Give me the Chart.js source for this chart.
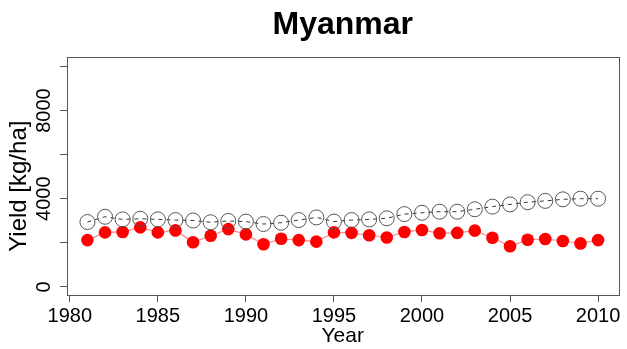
<!DOCTYPE html>
<html>
<head>
<meta charset="utf-8">
<script src="https://cdn.jsdelivr.net/npm/chart.js@4.4.1/dist/chart.umd.min.js"></script>
<style>
  html, body { margin: 0; padding: 0; background: #fff; }
  canvas { display: block; }
</style>
</head>
<body>
<canvas id="yieldChart" width="627" height="349"></canvas>
<script>
// ========== DATA ==========
const years = [1981, 1982, 1983, 1984, 1985, 1986, 1987, 1988, 1989, 1990,
               1991, 1992, 1993, 1994, 1995, 1996, 1997, 1998, 1999, 2000,
               2001, 2002, 2003, 2004, 2005, 2006, 2007, 2008, 2009, 2010];
// open circles (dashed line)
const potentialYield = [2940, 3180, 3060, 3090, 3060, 3030, 3010, 2930, 2990, 2960,
                        2850, 2910, 3030, 3150, 2960, 3030, 3060, 3110, 3300, 3360,
                        3410, 3410, 3520, 3640, 3740, 3840, 3900, 3970, 4000, 4000];
// red filled points
const actualYield = [2120, 2470, 2490, 2700, 2470, 2560, 2020, 2320, 2620, 2380,
                     1930, 2180, 2120, 2050, 2470, 2450, 2340, 2240, 2490, 2580,
                     2430, 2450, 2550, 2230, 1840, 2140, 2170, 2080, 1970, 2120];
const xTicks = [1980, 1985, 1990, 1995, 2000, 2005, 2010];
const yTicks = [0, 2000, 4000, 6000, 8000, 10000];
const yLabelled = [0, 4000, 8000];

const FONT = 'Liberation Sans, Arial, Helvetica, sans-serif';
const AXIS_COLOR = '#555';

// box around plot area like R's box()
const boxPlugin = {
    id: 'plotBox',
    afterDraw(chart) {
        const { ctx, chartArea: a } = chart;
        ctx.save();
        ctx.strokeStyle = AXIS_COLOR;
        ctx.lineWidth = 1;
        ctx.strokeRect(Math.round(a.left) + 0.5, Math.round(a.top) + 0.5,
                       Math.round(a.right - a.left), Math.round(a.bottom - a.top));
        ctx.restore();
    }
};

const ctx = document.getElementById('yieldChart').getContext('2d');

new Chart(ctx, {
    type: 'line',
    data: {
        datasets: [
            {
                label: 'potential',
                data: years.map((y, i) => ({ x: y, y: potentialYield[i] })),
                borderColor: '#333',
                borderWidth: 1,
                borderDash: [4, 4],
                pointRadius: 7.5,
                pointBorderColor: '#555',
                pointBorderWidth: 1,
                pointBackgroundColor: 'rgba(0,0,0,0)',
                tension: 0,
                fill: false
            },
            {
                label: 'actual',
                data: years.map((y, i) => ({ x: y, y: actualYield[i] })),
                borderColor: 'rgba(255, 60, 60, 0.6)',
                borderWidth: 1.2,
                pointRadius: 6.3,
                pointBorderWidth: 0,
                pointBackgroundColor: '#ff0000',
                tension: 0,
                fill: false
            }
        ]
    },
    options: {
        responsive: false,
        animation: false,
        devicePixelRatio: 1,
        layout: { padding: { left: 0, right: 5, top: 0, bottom: 0 } },
        plugins: {
            legend: { display: false },
            tooltip: { enabled: false },
            title: {
                display: true,
                text: 'Myanmar',
                fullSize: false,
                color: '#000',
                font: { family: FONT, size: 32, weight: 'bold' },
                padding: { top: 6, bottom: 13 }
            }
        },
        scales: {
            x: {
                type: 'linear',
                min: 1979.84,
                max: 2011.16,
                afterBuildTicks: (scale) => { scale.ticks = xTicks.map(v => ({ value: v })); },
                afterFit: (scale) => { scale.height = 54; },
                grid: { drawOnChartArea: false, drawTicks: true, tickLength: 7, color: AXIS_COLOR },
                border: { display: false },
                ticks: {
                    color: '#000',
                    font: { family: FONT, size: 20 },
                    padding: 2,
                    maxRotation: 0,
                    callback: (v) => String(v)
                },
                title: {
                    display: true,
                    text: 'Year',
                    color: '#000',
                    font: { family: FONT, size: 21 },
                    padding: { top: 0, bottom: 0 }
                }
            },
            y: {
                min: -370,
                max: 10410,
                afterBuildTicks: (scale) => { scale.ticks = yTicks.map(v => ({ value: v })); },
                afterFit: (scale) => { scale.width = 67; },
                grid: { drawOnChartArea: false, drawTicks: true, tickLength: 7, color: AXIS_COLOR },
                border: { display: false },
                ticks: {
                    color: '#000',
                    font: { family: FONT, size: 20 },
                    minRotation: 90,
                    maxRotation: 90,
                    crossAlign: 'center',
                    padding: -7,
                    callback: (v) => (yLabelled.includes(v) ? String(v) : '')
                },
                title: {
                    display: true,
                    text: 'Yield [kg/ha]   ',
                    color: '#000',
                    font: { family: FONT, size: 24 },
                    padding: { top: 5, bottom: 0 }
                }
            }
        }
    },
    plugins: [boxPlugin]
});
</script>
</body>
</html>
